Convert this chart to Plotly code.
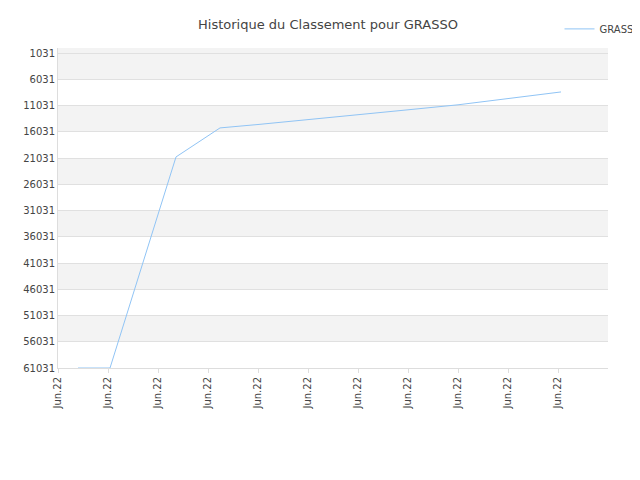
import plotly.graph_objects as go

x_pos = [0.4, 1.04, 2.36, 3.24, 4.0, 5.0, 6.0, 7.0, 8.0, 9.0, 10.06]
ranks = [61031, 61031, 20830, 15300, 14650, 13750, 12800, 11850, 10900, 9700, 8450]
tick_vals = list(range(0, 11))
tick_text = ["Jun.22"] * 11
y_ticks = list(range(1031, 61032, 5000))
y_text = [str(v) for v in y_ticks]

fig = go.Figure()
# alternating bands
fig.add_hrect(y0=79, y1=6031, fillcolor="#f3f3f3", line_width=0, layer="below")
for i in range(2, len(y_ticks) - 1, 2):
    fig.add_hrect(y0=y_ticks[i], y1=y_ticks[i + 1], fillcolor="#f3f3f3",
                  line_width=0, layer="below")
fig.add_trace(go.Scatter(x=x_pos, y=ranks, mode="lines", name="GRASSO",
                         line=dict(color="#90c4f5", width=1)))
fig.update_layout(
    width=640, height=480, plot_bgcolor="white", paper_bgcolor="white",
    margin=dict(l=50, r=40, t=40, b=120, autoexpand=False),
    title=dict(text="Historique du Classement pour GRASSO", x=0.5, xanchor="center",
               y=0.975, font=dict(size=13, color="#444", family="DejaVu Sans")),
    font=dict(family="DejaVu Sans", size=10, color="#444"),
    showlegend=True,
    legend=dict(x=1.07, y=1.105, xanchor="right", yanchor="top", font=dict(size=10)),
)
fig.update_xaxes(range=[0, 11], tickvals=tick_vals, ticktext=tick_text, tickangle=-90,
                 showgrid=False, showline=True, linecolor="#ddd", ticks="outside",
                 tickcolor="#ddd", ticklen=4)
fig.update_yaxes(range=[61031, 79], tickvals=y_ticks, ticktext=y_text, showgrid=True,
                 gridcolor="#e0e0e0", showline=True, linecolor="#ddd", zeroline=False)
fig.write_html("out.html")
